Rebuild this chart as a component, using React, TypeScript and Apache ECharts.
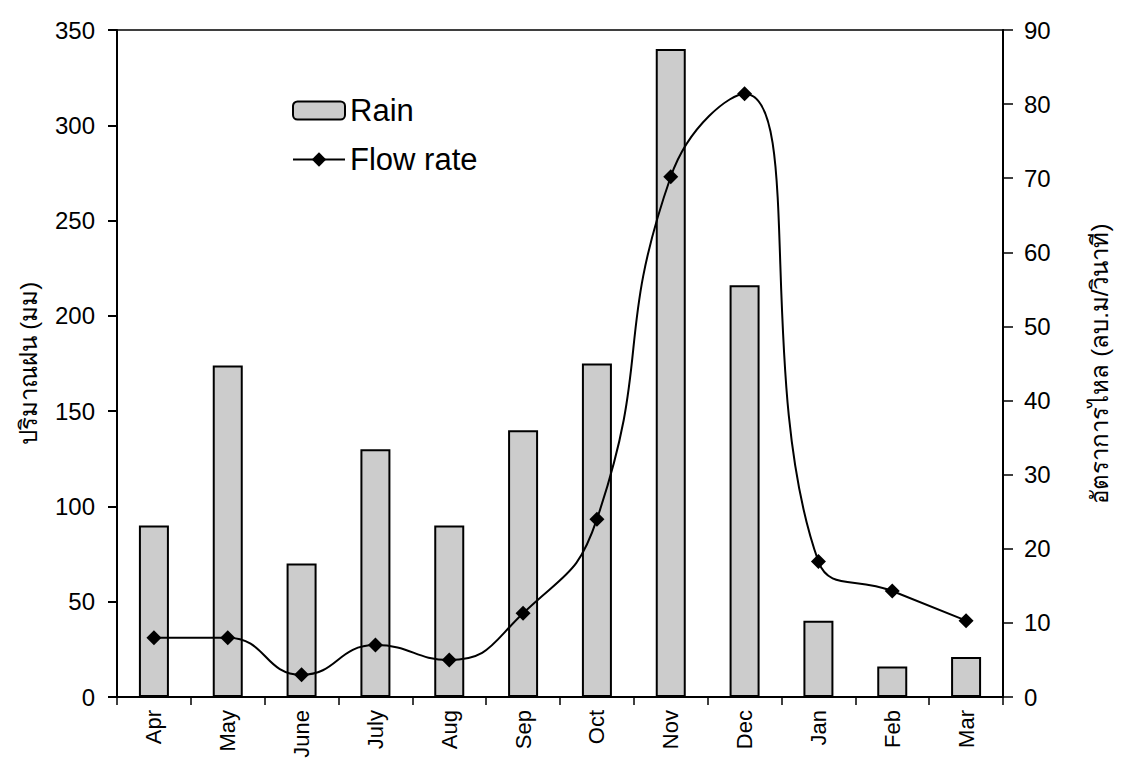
import React, { useEffect, useRef } from "react";
import * as echarts from "echarts";

// Monthly rainfall (mm) and stream flow rate (m³/s)
const months = ["Apr", "May", "June", "July", "Aug", "Sep", "Oct", "Nov", "Dec", "Jan", "Feb", "Mar"];
const rain = [90, 174, 70, 130, 90, 140, 175, 340, 216, 40, 16, 21];
const flowRate = [8, 8, 3, 7, 5, 11.3, 24, 70.2, 81.4, 18.3, 14.3, 10.3];

const rainTicks = { min: 0, max: 350, interval: 50 };
const flowTicks = { min: 0, max: 90, interval: 10 };

const FONT = "'Liberation Sans', Arial, 'DejaVu Sans', sans-serif";

export default function App() {
  const ref = useRef<HTMLDivElement>(null);

  useEffect(() => {
    if (!ref.current) return;
    const chart = echarts.init(ref.current, null, { renderer: "svg" });
    chart.setOption({
      animation: false,
      backgroundColor: "#ffffff",
      textStyle: { fontFamily: FONT, color: "#000" },
      grid: {
        left: 109,
        right: 130,
        top: 22,
        bottom: 62,
        outerBoundsMode: "none",
        containLabel: false,
        show: true,
        borderColor: "#000",
        borderWidth: 1.5,
      },
      legend: {
        orient: "vertical",
        left: 279,
        top: 82,
        itemGap: 18,
        itemWidth: 52,
        itemHeight: 18,
        textStyle: { fontSize: 31, color: "#000", fontFamily: FONT },
        data: ["Rain", "Flow rate"],
      },
      xAxis: {
        type: "category",
        data: months,
        boundaryGap: true,
        axisLine: { lineStyle: { color: "#000", width: 2 } },
        axisTick: { show: true, alignWithLabel: false, length: 8, lineStyle: { color: "#000", width: 1.5 } },
        axisLabel: { rotate: 90, fontSize: 22, color: "#000", margin: 13, fontFamily: FONT },
      },
      yAxis: [
        {
          type: "value",
          ...rainTicks,
          position: "left",
          name: "ปริมาณฝน (มม)",
          nameLocation: "middle",
          nameRotate: 90,
          nameGap: 77,
          nameTextStyle: { fontSize: 24, color: "#000", fontFamily: FONT },
          splitLine: { show: false },
          axisLine: { show: true, lineStyle: { color: "#000", width: 2 } },
          axisTick: { show: true, length: 9, lineStyle: { color: "#000", width: 2 } },
          axisLabel: { fontSize: 24, color: "#000", margin: 22, fontFamily: FONT },
        },
        {
          type: "value",
          ...flowTicks,
          position: "right",
          name: "อัตราการไหล (ลบ.ม/วินาที)",
          nameLocation: "middle",
          nameRotate: 90,
          nameGap: 84,
          nameTextStyle: { fontSize: 24, color: "#000", fontFamily: FONT },
          splitLine: { show: false },
          axisLine: { show: true, lineStyle: { color: "#000", width: 2 } },
          axisTick: { show: true, length: 10, lineStyle: { color: "#000", width: 1.5 } },
          axisLabel: { fontSize: 24, color: "#000", margin: 21, fontFamily: FONT },
        },
      ],
      series: [
        {
          name: "Rain",
          type: "bar",
          yAxisIndex: 0,
          data: rain,
          barWidth: 30,
          itemStyle: { color: "#cccccc", borderColor: "#000", borderWidth: 2 },
        },
        {
          name: "Flow rate",
          type: "line",
          yAxisIndex: 1,
          data: flowRate,
          smooth: 0.5,
          symbol: "diamond",
          symbolSize: 15,
          lineStyle: { color: "#000", width: 2 },
          itemStyle: { color: "#000" },
        },
      ],
    });
    return () => chart.dispose();
  }, []);

  return <div ref={ref} style={{ width: 1125, height: 751 }} />;
}
